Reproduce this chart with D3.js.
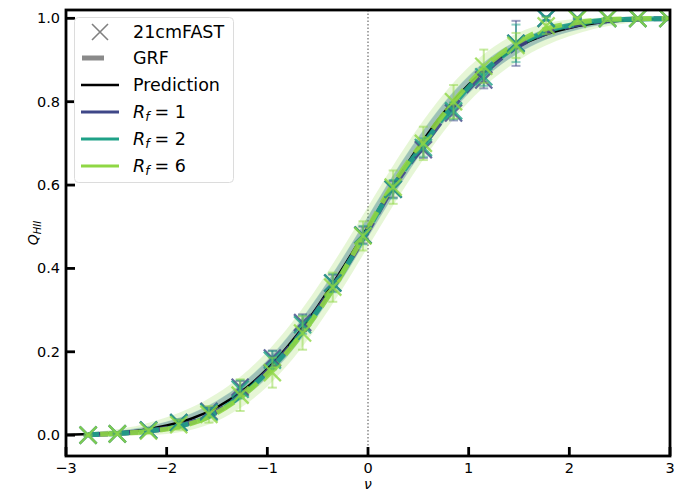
<!DOCTYPE html>
<html><head><meta charset="utf-8">
<script src="https://cdn.jsdelivr.net/npm/d3@7"></script>
<style>body{margin:0;background:#fff} svg{display:block;font-family:"DejaVu Sans",sans-serif}</style>
</head><body><svg id="c" width="698" height="493"></svg>
<script>
// ---- data ----
const nuGrid = [-3,-2.75,-2.5,-2.25,-2,-1.75,-1.5,-1.25,-1,-0.75,-0.5,-0.25,0,0.25,0.5,0.75,1,1.25,1.5,1.75,2,2.25,2.5,2.75,3];
const prediction = [0.001,0.003,0.006,0.012,0.023,0.04,0.067,0.106,0.159,0.227,0.309,0.401,0.5,0.599,0.691,0.773,0.841,0.894,0.933,0.96,0.977,0.988,0.994,0.997,0.999];
const bandR1 = [0.001,0.002,0.004,0.006,0.009,0.012,0.015,0.018,0.02,0.022,0.023,0.024,0.024,0.024,0.023,0.022,0.02,0.018,0.015,0.012,0.009,0.006,0.004,0.002,0.001];
const bandR2 = [0.001,0.002,0.004,0.007,0.01,0.013,0.016,0.019,0.022,0.024,0.025,0.026,0.026,0.026,0.025,0.024,0.022,0.019,0.016,0.013,0.01,0.007,0.004,0.002,0.001];
const bandR6 = [0.002,0.004,0.008,0.013,0.02,0.027,0.033,0.038,0.042,0.045,0.047,0.048,0.048,0.048,0.047,0.045,0.042,0.038,0.033,0.027,0.02,0.013,0.008,0.004,0.002];

const nuPts = [-2.78,-2.49,-2.18,-1.88,-1.58,-1.27,-0.95,-0.65,-0.35,-0.05,0.25,0.55,0.85,1.15,1.47,1.77,2.08,2.38,2.68,2.98];
const fastR1 = [0.0,0.003,0.012,0.03,0.057,0.115,0.185,0.27,0.365,0.48,0.59,0.685,0.773,0.852,0.94,1.0,1.0,1.0,1.0,1.0];
const fastR2 = [0.0,0.003,0.012,0.03,0.055,0.11,0.18,0.265,0.365,0.48,0.59,0.69,0.778,0.86,0.94,1.0,1.0,1.0,1.0,1.0];
const fastR6 = [0.0,0.003,0.01,0.025,0.05,0.096,0.15,0.245,0.355,0.478,0.595,0.70,0.80,0.885,0.935,0.982,0.998,1.0,1.0,1.0];
const errR1 = [0.002,0.002,0.004,0.007,0.01,0.015,0.018,0.02,0.02,0.02,0.02,0.02,0.018,0.02,0.054,0.005,0.002,0.001,0.001,0.001];
const errR2 = [0.002,0.002,0.004,0.007,0.01,0.022,0.022,0.022,0.022,0.022,0.022,0.022,0.02,0.022,0.045,0.005,0.002,0.001,0.001,0.001];
const errR6 = [0.002,0.003,0.006,0.012,0.02,0.038,0.036,0.04,0.035,0.035,0.04,0.04,0.04,0.04,0.03,0.02,0.005,0.002,0.001,0.001];
const grfR1 = [0.001,0.004,0.01,0.022,0.046,0.095,0.165,0.25,0.355,0.47,0.595,0.695,0.79,0.868,0.93,0.965,0.985,0.995,0.998,0.999];
const grfR2 = [0.001,0.004,0.01,0.021,0.045,0.093,0.163,0.248,0.353,0.472,0.597,0.698,0.793,0.872,0.932,0.968,0.987,0.996,0.998,0.999];
const grfR6 = [0.001,0.004,0.009,0.02,0.044,0.09,0.16,0.245,0.35,0.476,0.602,0.705,0.8,0.88,0.94,0.975,0.99,0.997,0.999,1.0];

const xTicks = [-3,-2,-1,0,1,2,3];
const yTicks = [0,0.2,0.4,0.6,0.8,1.0];
const rfValues = ["1","2","6"];
const colors = ["#3f4788","#1fa187","#8fd744"];

// ---- layout ----
const L=66,R=670,T=10,B=456;
const svg=d3.select("#c");
const x=d3.scaleLinear().domain([-3,3]).range([L,R]);
const y=d3.scaleLinear().domain([-0.05,1.02]).range([B,T]);

svg.append("defs").append("clipPath").attr("id","clip").append("rect")
  .attr("x",L).attr("y",T).attr("width",R-L).attr("height",B-T);
const g=svg.append("g").attr("clip-path","url(#clip)");

// zero line
g.append("line").attr("x1",x(0)).attr("x2",x(0)).attr("y1",T).attr("y2",B)
  .attr("stroke","#777").attr("stroke-width",1.3).attr("stroke-dasharray","1.5,2");

// bands
const bands=[bandR1,bandR2,bandR6];
[2,1,0].forEach(i=>{
  const area=d3.area().x((d,j)=>x(nuGrid[j])).y0((d,j)=>y(prediction[j]-bands[i][j])).y1((d,j)=>y(prediction[j]+bands[i][j])).curve(d3.curveMonotoneX);
  g.append("path").datum(nuGrid).attr("d",area).attr("fill",colors[i]).attr("fill-opacity",0.22);
});

// prediction line
g.append("path").datum(nuGrid)
  .attr("d",d3.line().x((d,j)=>x(nuGrid[j])).y((d,j)=>y(prediction[j])).curve(d3.curveMonotoneX))
  .attr("fill","none").attr("stroke","#000").attr("stroke-width",2.5);

// GRF dashed
const grfs=[grfR1,grfR2,grfR6];
grfs.forEach((s,i)=>{
  g.append("path").datum(nuPts)
   .attr("d",d3.line().x((d,j)=>x(nuPts[j])).y((d,j)=>y(s[j])).curve(d3.curveMonotoneX))
   .attr("fill","none").attr("stroke",colors[i]).attr("stroke-width",5)
   .attr("stroke-dasharray","20,10").attr("stroke-dashoffset",i*9).attr("opacity",0.9);
});

// 21cmFAST points
const fasts=[fastR1,fastR2,fastR6], errs=[errR1,errR2,errR6];
fasts.forEach((s,i)=>{
  const gg=g.append("g");
  nuPts.forEach((nu,j)=>{
    const cx=x(nu), cy=y(s[j]), e=errs[i][j];
    const eb=gg.append("g").attr("stroke",colors[i]).attr("stroke-opacity",0.5).attr("stroke-width",2);
    eb.append("line").attr("x1",cx).attr("x2",cx).attr("y1",y(s[j]-e)).attr("y2",y(s[j]+e));
    eb.append("line").attr("x1",cx-4.5).attr("x2",cx+4.5).attr("y1",y(s[j]-e)).attr("y2",y(s[j]-e));
    eb.append("line").attr("x1",cx-4.5).attr("x2",cx+4.5).attr("y1",y(s[j]+e)).attr("y2",y(s[j]+e));
    const r=8.5;
    gg.append("path").attr("d",`M${cx-r},${cy-r}L${cx+r},${cy+r}M${cx-r},${cy+r}L${cx+r},${cy-r}`)
      .attr("stroke",colors[i]).attr("stroke-width",2.3).attr("stroke-opacity",0.8).attr("fill","none");
  });
});

// axes frame
svg.append("rect").attr("x",L).attr("y",T).attr("width",R-L).attr("height",B-T)
  .attr("fill","none").attr("stroke","#000").attr("stroke-width",2.8);

// ticks
const fmtX=d=>d<0?"\u2212"+Math.abs(d):String(d);
xTicks.forEach(t=>{
  svg.append("line").attr("x1",x(t)).attr("x2",x(t)).attr("y1",B).attr("y2",B-9).attr("stroke","#000").attr("stroke-width",2.8);
  svg.append("text").attr("x",x(t)).attr("y",B+17).attr("text-anchor","middle").attr("font-size",14.5).text(fmtX(t));
});
yTicks.forEach(t=>{
  svg.append("line").attr("x1",L).attr("x2",L+9).attr("y1",y(t)).attr("y2",y(t)).attr("stroke","#000").attr("stroke-width",2.8);
  svg.append("text").attr("x",L-6).attr("y",y(t)+5).attr("text-anchor","end").attr("font-size",14.5).text(t.toFixed(1));
});

// axis labels
svg.append("text").attr("x",x(0)).attr("y",489).attr("text-anchor","middle").attr("font-size",14).attr("font-style","italic").text("\u03bd");
const yl=svg.append("text").attr("transform",`translate(38,${(T+B)/2}) rotate(-90)`).attr("text-anchor","middle").attr("font-size",14).attr("font-style","italic");
yl.append("tspan").text("Q");
yl.append("tspan").attr("font-size",10).attr("dy",3).text("HII");

// legend
const lg=svg.append("g");
lg.append("rect").attr("x",74.5).attr("y",17.5).attr("width",159).attr("height",165).attr("rx",4)
  .attr("fill","#fff").attr("fill-opacity",0.8).attr("stroke","#dcdcdc").attr("stroke-width",1);
const rows=[32,58,85,112,139,166];
const hx1=81,hx2=119,tx=133,fs=17.5;
// 21cmFAST
lg.append("path").attr("d",`M${100-8},${rows[0]-8}L${100+8},${rows[0]+8}M${100-8},${rows[0]+8}L${100+8},${rows[0]-8}`)
  .attr("stroke","#808080").attr("stroke-width",1.6).attr("fill","none");
lg.append("text").attr("x",tx).attr("y",rows[0]+6).attr("font-size",fs).text("21cmFAST");
// GRF
lg.append("line").attr("x1",82).attr("x2",104).attr("y1",rows[1]).attr("y2",rows[1]).attr("stroke","#8a8a8a").attr("stroke-width",5);
lg.append("text").attr("x",tx).attr("y",rows[1]+6).attr("font-size",fs).text("GRF");
// Prediction
lg.append("line").attr("x1",hx1).attr("x2",hx2).attr("y1",rows[2]).attr("y2",rows[2]).attr("stroke","#000").attr("stroke-width",2.5);
lg.append("text").attr("x",tx).attr("y",rows[2]+6).attr("font-size",fs).text("Prediction");
rfValues.forEach((v,i)=>{
  const yy=rows[3+i];
  lg.append("line").attr("x1",hx1).attr("x2",hx2).attr("y1",yy).attr("y2",yy).attr("stroke",colors[i]).attr("stroke-width",3);
  const t=lg.append("text").attr("x",tx).attr("y",yy+6).attr("font-size",fs);
  t.append("tspan").attr("font-style","italic").text("R");
  t.append("tspan").attr("font-style","italic").attr("font-size",12.5).attr("dy",3).text("f");
  t.append("tspan").attr("dy",-3).attr("dx",5).text("= "+v);
});
</script></body></html>
